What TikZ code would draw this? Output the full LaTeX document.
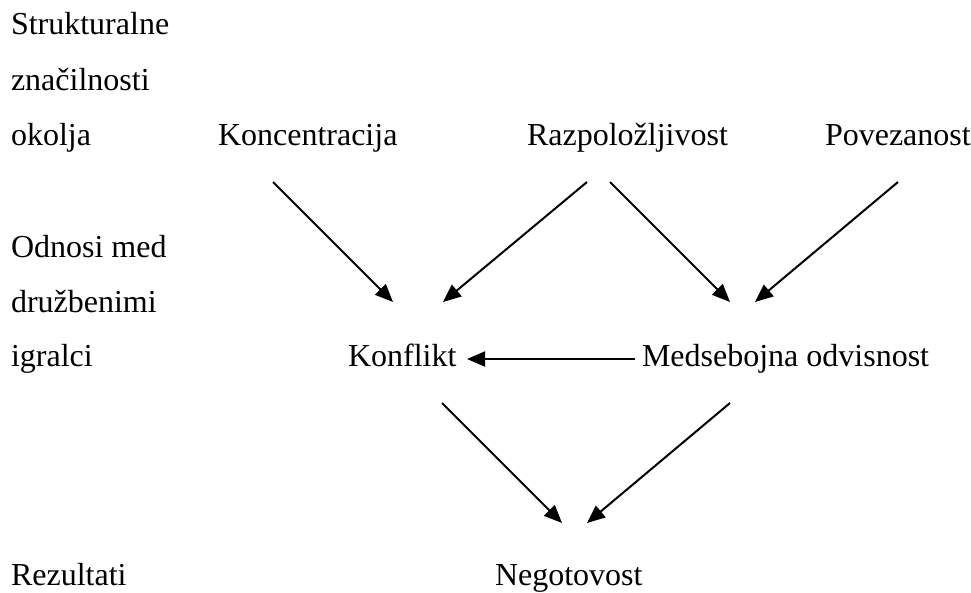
\documentclass[tikz,border=0pt]{standalone}
\usepackage{fontspec}
\setmainfont{Liberation Serif}
\usetikzlibrary{arrows.meta,calc}
\begin{document}
\begin{tikzpicture}[x=1pt,y=-1pt,
  lbl/.style={inner sep=0pt,outer sep=0pt,anchor=base west,font=\fontsize{32}{36}\selectfont},
  arr/.style={line width=2pt,-{Triangle[length=18pt,width=15pt]}}]
\useasboundingbox (0,0) rectangle (971,592);
% left labels
\node[lbl] (l1) at (11,34) {Strukturalne};
\node[lbl] (l2) at (11,90) {značilnosti};
\node[lbl] (l3) at (11,145) {okolja};
\node[lbl] (l4) at (11,257) {Odnosi med};
\node[lbl] (l5) at (11,312) {družbenimi};
\node[lbl] (l6) at (11,366) {igralci};
\node[lbl] (l7) at (11,585) {Rezultati};
% diagram nodes
\node[lbl] (konc) at (218,145) {Koncentracija};
\node[lbl] (razp) at (527,145) {Razpoložljivost};
\node[lbl] (pov) at (825,145) {Povezanost};
\node[lbl] (konf) at (348,366) {Konflikt};
\node[lbl] (meds) at (642,366) {Medsebojna odvisnost};
\node[lbl] (neg) at (495,585) {Negotovost};
% connectors
\draw[arr] ($(konc.base west)+(55,37)$) -- ($(konf.base west)+(45,-64)$);
\draw[arr] ($(razp.base west)+(60,37)$) -- ($(konf.base west)+(95,-64)$);
\draw[arr] ($(razp.base west)+(83,37)$) -- ($(meds.base west)+(88,-64)$);
\draw[arr] ($(pov.base west)+(73,37)$) -- ($(meds.base west)+(113,-64)$);
\draw[arr] ($(meds.base west)+(-7,-7)$) -- ($(konf.base west)+(119,-7)$);
\draw[arr] ($(konf.base west)+(94,37)$) -- ($(neg.base west)+(67,-62)$);
\draw[arr] ($(meds.base west)+(88,37)$) -- ($(neg.base west)+(92,-62)$);
\end{tikzpicture}
\end{document}
